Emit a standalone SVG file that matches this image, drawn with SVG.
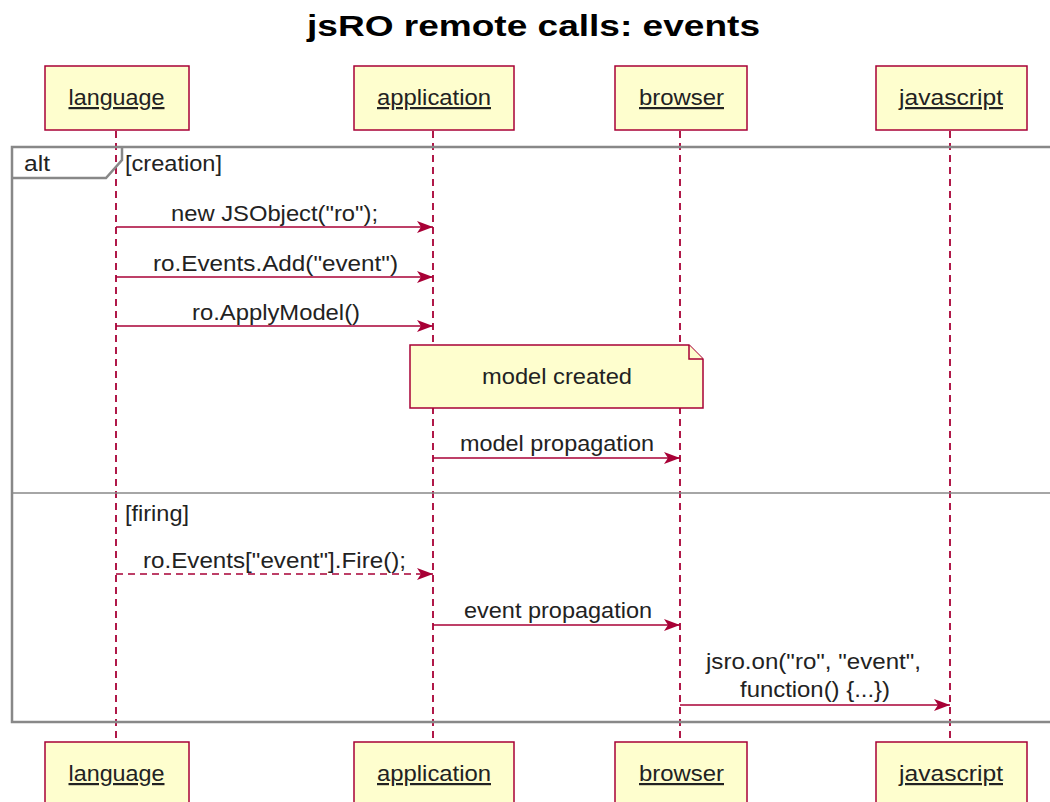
<svg xmlns="http://www.w3.org/2000/svg" width="1050" height="802" viewBox="0 0 1050 802">
  <style>
    .t { font-family: "Liberation Sans", Arial, sans-serif; font-size: 22px; fill: #222; }
    .title { font-family: "Liberation Sans", Arial, sans-serif; font-size: 29px; font-weight: bold; fill: #000; }
    .part rect { fill: #FEFECE; stroke: #A80036; stroke-width: 1.5; }
    .part text { text-decoration: underline; }
    .life { stroke: #A80036; stroke-width: 1.8; stroke-dasharray: 7 5; fill: none; }
    .msg { stroke: #A80036; stroke-width: 1.5; fill: none; }
    .dashed { stroke-dasharray: 7 5; }
    .frame { fill: none; stroke: #888; stroke-width: 2.5; }
    .sep { stroke: #888; stroke-width: 1.3; }
    .note { fill: #FEFECE; stroke: #A80036; stroke-width: 1.5; }
  </style>
  <defs>
    <marker id="arrow" viewBox="0 0 16 12" refX="16" refY="6" markerWidth="16" markerHeight="12" markerUnits="userSpaceOnUse" orient="auto">
      <path d="M0,0 L16,6 L0,12 L4,6 Z" fill="#A80036"/>
    </marker>
  </defs>
  <rect width="1050" height="802" fill="#fff"/>

  <text class="title" x="533.5" y="36" text-anchor="middle" textLength="453" lengthAdjust="spacingAndGlyphs">jsRO remote calls: events</text>

  <!-- lifelines -->
  <g id="lifelines">
    <line class="life" x1="116" y1="131" x2="116" y2="742"/>
    <line class="life" x1="433" y1="131" x2="433" y2="742"/>
    <line class="life" x1="680" y1="131" x2="680" y2="742"/>
    <line class="life" x1="950" y1="131" x2="950" y2="742"/>
  </g>

  <!-- alt fragment -->
  <g id="alt">
    <rect class="frame" x="12" y="147" width="1050" height="575"/>
    <path class="frame" d="M12,178 L106,178 L122,160 L122,147"/>
    <text class="t" x="24" y="171" textLength="26" lengthAdjust="spacingAndGlyphs">alt</text>
    <text class="t" x="125" y="171" textLength="97" lengthAdjust="spacingAndGlyphs">[creation]</text>
    <line class="sep" x1="12" y1="493" x2="1050" y2="493"/>
    <text class="t" x="125" y="521" textLength="64" lengthAdjust="spacingAndGlyphs">[firing]</text>
  </g>

  <!-- participants, top -->
  <g id="language-top" class="part">
    <rect x="45" y="66" width="144" height="64"/>
    <text class="t" x="116.5" y="105" text-anchor="middle" textLength="96" lengthAdjust="spacingAndGlyphs">language</text>
  </g>
  <g id="application-top" class="part">
    <rect x="354" y="66" width="160" height="64"/>
    <text class="t" x="434" y="105" text-anchor="middle" textLength="114" lengthAdjust="spacingAndGlyphs">application</text>
  </g>
  <g id="browser-top" class="part">
    <rect x="615" y="66" width="132" height="64"/>
    <text class="t" x="681.5" y="105" text-anchor="middle" textLength="85" lengthAdjust="spacingAndGlyphs">browser</text>
  </g>
  <g id="javascript-top" class="part">
    <rect x="876" y="66" width="151" height="64"/>
    <text class="t" x="951" y="105" text-anchor="middle" textLength="104" lengthAdjust="spacingAndGlyphs">javascript</text>
  </g>

  <!-- participants, bottom -->
  <g id="language-bottom" class="part">
    <rect x="45" y="742" width="144" height="64"/>
    <text class="t" x="116.5" y="781" text-anchor="middle" textLength="96" lengthAdjust="spacingAndGlyphs">language</text>
  </g>
  <g id="application-bottom" class="part">
    <rect x="354" y="742" width="160" height="64"/>
    <text class="t" x="434" y="781" text-anchor="middle" textLength="114" lengthAdjust="spacingAndGlyphs">application</text>
  </g>
  <g id="browser-bottom" class="part">
    <rect x="615" y="742" width="132" height="64"/>
    <text class="t" x="681.5" y="781" text-anchor="middle" textLength="85" lengthAdjust="spacingAndGlyphs">browser</text>
  </g>
  <g id="javascript-bottom" class="part">
    <rect x="876" y="742" width="151" height="64"/>
    <text class="t" x="951" y="781" text-anchor="middle" textLength="104" lengthAdjust="spacingAndGlyphs">javascript</text>
  </g>

  <!-- note -->
  <g id="note-model-created">
    <path class="note" d="M410,345 L689,345 L703,359 L703,408 L410,408 Z"/>
    <path class="note" d="M689,345 L689,359 L703,359"/>
    <text class="t" x="557" y="384" text-anchor="middle" textLength="150" lengthAdjust="spacingAndGlyphs">model created</text>
  </g>

  <!-- messages -->
  <g id="connectors">
    <line class="msg" x1="116" y1="227" x2="433" y2="227" marker-end="url(#arrow)"/>
    <text class="t" x="274.5" y="221" text-anchor="middle" textLength="207" lengthAdjust="spacingAndGlyphs">new JSObject("ro");</text>

    <line class="msg" x1="116" y1="277" x2="433" y2="277" marker-end="url(#arrow)"/>
    <text class="t" x="275.5" y="271" text-anchor="middle" textLength="245" lengthAdjust="spacingAndGlyphs">ro.Events.Add("event")</text>

    <line class="msg" x1="116" y1="326" x2="433" y2="326" marker-end="url(#arrow)"/>
    <text class="t" x="276" y="320" text-anchor="middle" textLength="168" lengthAdjust="spacingAndGlyphs">ro.ApplyModel()</text>

    <line class="msg" x1="433" y1="458" x2="680" y2="458" marker-end="url(#arrow)"/>
    <text class="t" x="557" y="451" text-anchor="middle" textLength="194" lengthAdjust="spacingAndGlyphs">model propagation</text>

    <line class="msg dashed" x1="116" y1="574" x2="433" y2="574" marker-end="url(#arrow)"/>
    <text class="t" x="274.5" y="568" text-anchor="middle" textLength="263" lengthAdjust="spacingAndGlyphs">ro.Events["event"].Fire();</text>

    <line class="msg" x1="433" y1="625" x2="680" y2="625" marker-end="url(#arrow)"/>
    <text class="t" x="558" y="618" text-anchor="middle" textLength="188" lengthAdjust="spacingAndGlyphs">event propagation</text>

    <line class="msg" x1="680" y1="705" x2="950" y2="705" marker-end="url(#arrow)"/>
    <text class="t" x="813.5" y="669" text-anchor="middle" textLength="215" lengthAdjust="spacingAndGlyphs">jsro.on("ro", "event",</text>
    <text class="t" x="815" y="697" text-anchor="middle" textLength="150" lengthAdjust="spacingAndGlyphs">function() {...})</text>
  </g>
</svg>
